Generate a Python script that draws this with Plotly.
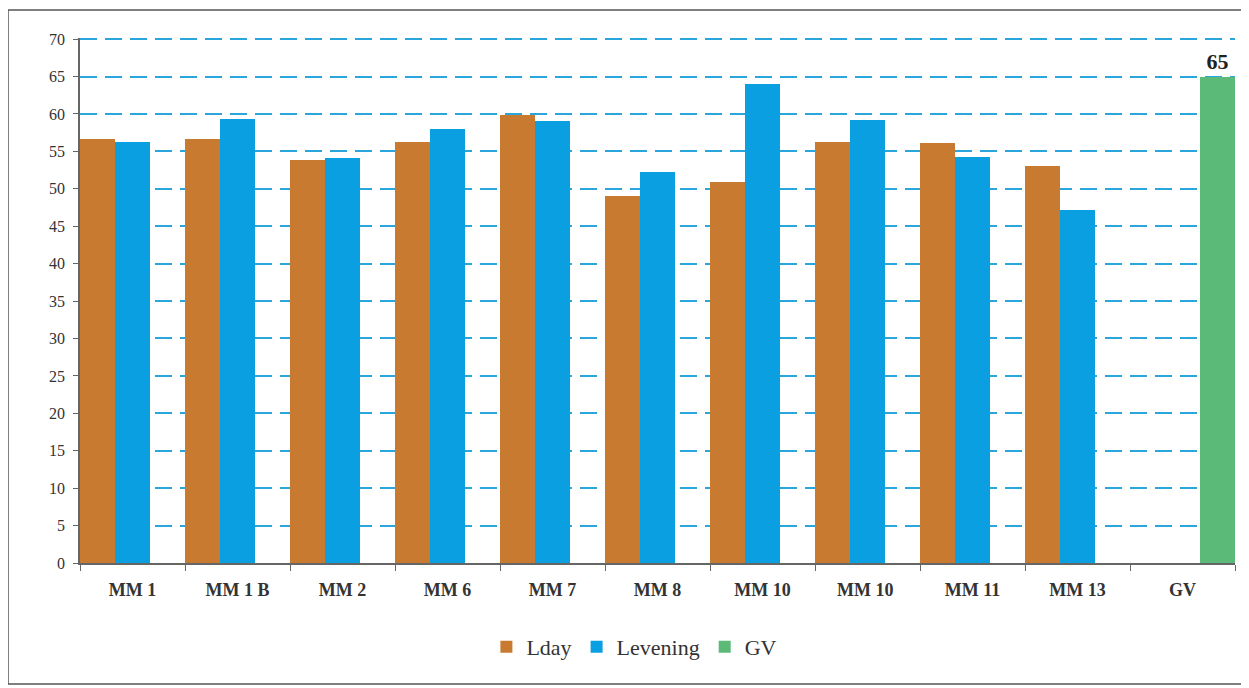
import plotly.graph_objects as go

categories = ["MM 1", "MM 1 B", "MM 2", "MM 6", "MM 7", "MM 8", "MM 10", "MM 10 ", "MM 11", "MM 13", "GV"]
lday = [56.7, 56.6, 53.8, 56.2, 59.8, 49.1, 50.9, 56.3, 56.1, 53.1, None]
levening = [56.2, 59.3, 54.1, 58.0, 59.0, 52.2, 64.0, 59.2, 54.2, 47.2, None]
gv = [None] * 10 + [65]
y_ticks = list(range(0, 71, 5))

serif = "Liberation Serif, Times New Roman, serif"

# page body has an 8px margin, so the figure is drawn 8px smaller and offset
W, H = 1241, 680
L, R, T, B = 72, 14, 30, 125
pw, ph = W - L - R, H - T - B

fig = go.Figure()
fig.add_trace(go.Bar(name="Lday", x=categories, y=lday, marker=dict(color="#c97a31", line=dict(width=0))))
fig.add_trace(go.Bar(name="Levening", x=categories, y=levening, marker=dict(color="#0a9fe0", line=dict(width=0))))
fig.add_trace(go.Bar(name="GV", x=categories, y=gv, marker=dict(color="#5cba78", line=dict(width=0)),
                     texttemplate="<b>%{y}</b>", textposition="outside",
                     textfont=dict(family=serif, size=22, color="#222"), cliponaxis=False))

fig.update_layout(
    width=W, height=H,
    barmode="group", bargap=0, bargroupgap=0,
    paper_bgcolor="white", plot_bgcolor="white",
    margin=dict(l=L, r=R, t=T, b=B),
    font=dict(family=serif, color="#333"),
    legend=dict(orientation="h", x=0.48, xanchor="center", y=-0.16, yanchor="middle",
                font=dict(family=serif, size=22, color="#333"), itemwidth=30,
                traceorder="normal"),
    xaxis=dict(type="category", showgrid=False, showline=True, linecolor="#666", linewidth=1.5,
               ticks="outside", tickson="boundaries", ticklen=6, tickcolor="#666",
               tickfont=dict(family=serif, size=18, color="#333", weight="bold"),
               ticklabelstandoff=10),
    yaxis=dict(range=[0, 70.15], tickvals=y_ticks, showline=True, linecolor="#666", linewidth=1.5,
               ticks="outside", ticklen=5, tickcolor="#666",
               tickfont=dict(family=serif, size=16, color="#333"),
               ticklabelstandoff=5,
               showgrid=True, gridcolor="#2aa6dc", gridwidth=2, griddash="17px,8px", zeroline=False),
    shapes=[dict(type="rect", xref="paper", yref="paper",
                 x0=(0 - L) / pw, x1=(1234 - L) / pw,
                 y0=(T + ph - 676) / ph, y1=(T + ph - 2) / ph,
                 line=dict(color="#555", width=1.5), layer="below")],
)

fig.write_html("out.html")
